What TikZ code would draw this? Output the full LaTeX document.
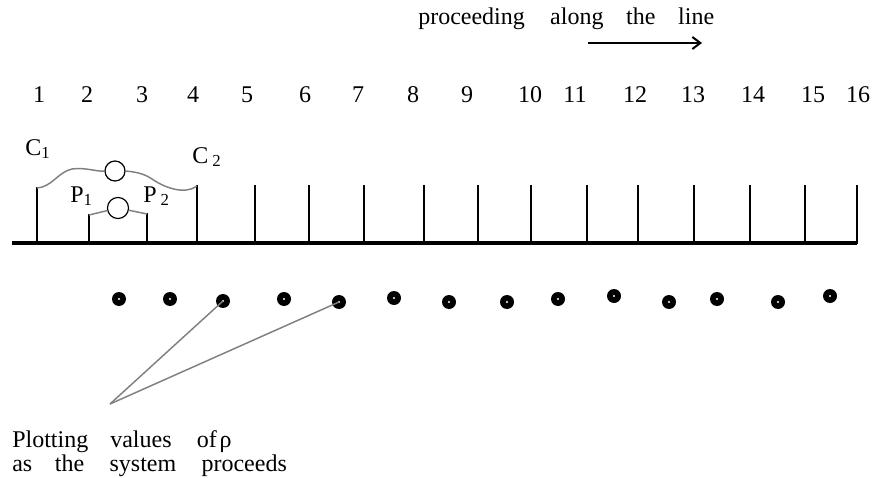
\documentclass[tikz,border=0pt]{standalone}
\usepackage{fontspec}
\setmainfont{Liberation Serif}
\usetikzlibrary{arrows.meta}

\begin{document}
\begin{tikzpicture}[
    x=0.75pt, y=-0.75pt,
    % Styling
    label/.style={inner sep=0pt, font=\fontsize{18}{18}\selectfont},
    num/.style={label, anchor=base},
    rod/.style={line width=1.4pt, line cap=rect},
    ground/.style={line width=2.4pt},
    wall/.style={color=gray, line width=1.1pt},
    ring/.style={circle, draw=black, line width=0.9pt, fill=white, inner sep=0pt, minimum size=15pt},
    dot/.style={circle, fill=black, inner sep=0pt, minimum size=10.5pt,
        path picture={\fill[white] (path picture bounding box.center) circle (0.8pt);}},
    callout/.style={color=gray, line width=1.1pt}
]
    \useasboundingbox (0,0) rectangle (875,478);

    % Heading and direction arrow
    \node[label, anchor=base west] (head) at (418,25)
        {proceeding\hspace{19pt}along\hspace{17pt}the\hspace{17pt}line};
    \coordinate (arrS) at (588,43);
    \coordinate (arrE) at (702,43);
    \draw[line width=1.5pt, -{Straight Barb[length=6pt, width=9pt]}] (arrS) -- (arrE);

    % Site numbers
    \foreach \x [count=\i] in {39,87,142,193,247,305,358,413,467,530,575,635,693,753,813,858} {
        \node[num] (n\i) at (\x,103) {\i};
    }

    % Ground line and rods
    \coordinate (b0) at (12,243);
    \foreach \x/\top [count=\i] in {37/188,89/215,147/214,197/186,255/186,309/186,364/186,424/186,
                                     478/186,531/186,587/186,638/186,694/186,750/186,805/186,857/186} {
        \coordinate (b\i) at (\x,243);
        \coordinate (t\i) at (\x,\top);
        \draw[rod] (b\i) -- (t\i);
    }
    \draw[ground] (b0) -- (b16);

    % Cages C1/C2 and P1/P2
    \node[ring] (m1) at (115,171) {};
    \node[ring, minimum size=15.8pt] (m2) at (118,208) {};
    \draw[wall] (t1) .. controls (52,187) and (58,172) .. (72,169)
        .. controls (85,167) and (97,172) .. (m1.west);
    \draw[wall] (m1.east) .. controls (135,172) and (143,173) .. (152,179)
        .. controls (165,188) and (185,195) .. (t4);
    \draw[wall] (t2) -- (m2);
    \draw[wall] (m2) -- (t3);

    \node[label, anchor=base west] (C1) at (25,155) {C\textsubscript{1}};
    \node[label, anchor=base west] (C2) at (192,163) {C\,\textsubscript{2}};
    \node[label, anchor=base west] (P1) at (70,202) {P\textsubscript{1}};
    \node[label, anchor=base west] (P2) at (143,202) {P\,\textsubscript{2}};

    % Plotted values
    \foreach \x/\y [count=\i] in {119/299,170/299,223/301,284/299,339/302,394/298,449/302,
                                  507/302,558/299,614/296,669/302,717/299,778/302,830/296} {
        \node[dot] (d\i) at (\x,\y) {};
    }

    % Callout
    \coordinate (apex) at (110,404);
    \draw[callout] (apex) -- (d3.center);
    \draw[callout] (apex) -- (d5.center);
    \node[label, anchor=base west, align=left, font=\fontsize{18}{15}\selectfont] (caption) at (12,471)
        {Plotting\hspace{16.5pt}values\hspace{19pt}of\hspace{2pt}ρ\\
         as\hspace{17pt}the\hspace{19pt}system\hspace{19pt}proceeds};

\end{tikzpicture}
\end{document}
